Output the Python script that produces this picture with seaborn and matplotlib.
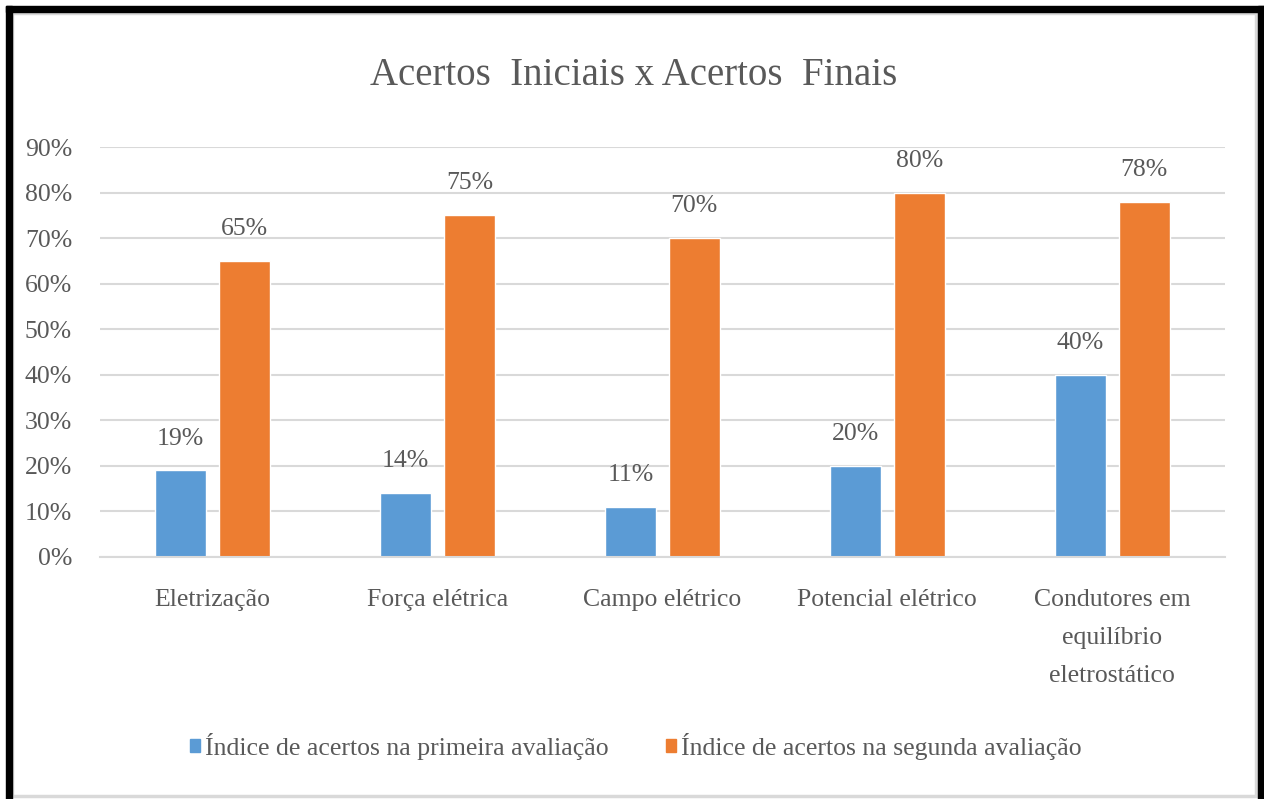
import matplotlib
matplotlib.use("Agg")
import matplotlib.pyplot as plt
import matplotlib.patches as mpatches
import pandas as pd
import seaborn as sns

# dados
categorias = ["Eletrização", "Força elétrica", "Campo elétrico",
              "Potencial elétrico", "Condutores em\nequilíbrio\neletrostático"]
primeira = [0.19, 0.14, 0.11, 0.20, 0.40]
segunda = [0.65, 0.75, 0.70, 0.80, 0.78]
series = ["Índice de acertos na primeira avaliação",
          "Índice de acertos na segunda avaliação"]
yticks = [0.0, 0.1, 0.2, 0.3, 0.4, 0.5, 0.6, 0.7, 0.8, 0.9]

df = pd.DataFrame({
    "categoria": categorias * 2,
    "valor": primeira + segunda,
    "serie": [series[0]] * 5 + [series[1]] * 5,
})

sns.set_theme(style="white")
plt.rcParams["font.family"] = ["Liberation Serif", "DejaVu Serif"]
cinza = "#595959"
linha = "#d9d9d9"

fig = plt.figure(figsize=(12.64, 7.99), dpi=100)
ax = fig.add_axes([0.079, 0.303, 0.890, 0.513])

sns.barplot(data=df, x="categoria", y="valor", hue="serie",
            palette=["#5B9BD5", "#ED7D31"], width=0.569, gap=0.2,
            saturation=1, legend=False, ax=ax)

ax.set_ylim(0, 0.9)
ax.set_yticks(yticks)
ax.set_yticklabels([f"{int(round(t * 100))}%" for t in yticks])
ax.set_xlim(-0.5, len(categorias) - 0.5)
ax.yaxis.grid(True, color=linha, linewidth=1.5)
ax.set_axisbelow(True)
for s in ["top", "right", "left"]:
    ax.spines[s].set_visible(False)
ax.spines["bottom"].set_color(linha)
ax.spines["bottom"].set_linewidth(1.5)
ax.tick_params(axis="both", length=0, labelsize=18.5, labelcolor=cinza)
ax.tick_params(axis="y", pad=20)
ax.tick_params(axis="x", pad=23)
for lab in ax.get_xticklabels():
    lab.set_linespacing(1.95)
    lab.set_verticalalignment("top")
ax.set_xlabel("")
ax.set_ylabel("")

# rótulos de dados
for cont in ax.containers:
    for barra in cont:
        h = barra.get_height()
        ax.annotate(f"{int(round(h * 100))}%",
                    (barra.get_x() + barra.get_width() / 2, h),
                    xytext=(0, 15), textcoords="offset points",
                    ha="center", va="bottom", fontsize=18.5, color=cinza)

fig.text(0.501, 0.906, "Acertos  Iniciais x Acertos  Finais",
         ha="center", va="center", fontsize=28, color=cinza)

handles = [mpatches.Patch(color="#5B9BD5"), mpatches.Patch(color="#ED7D31")]
fig.legend(handles, series, loc="center", bbox_to_anchor=(0.503, 0.066),
           ncol=2, frameon=False, fontsize=18.5, labelcolor=cinza,
           handlelength=0.4, handleheight=0.4, handletextpad=0.2,
           columnspacing=2.2)

# moldura
W, H = 1264, 799
def ret(x0, y0, x1, y1, **kw):
    fig.patches.append(mpatches.Rectangle(
        (x0 / W, 1 - y1 / H), (x1 - x0) / W, (y1 - y0) / H,
        transform=fig.transFigure, **kw))

ret(12, 13, 1256, 796, fill=False, edgecolor=linha, linewidth=2.5)
ret(6, 6, 1264, 12, color="black")
ret(6, 6, 12, 799, color="black")
ret(1258, 6, 1264, 799, color="black")

fig.savefig("out.png", dpi=100)
